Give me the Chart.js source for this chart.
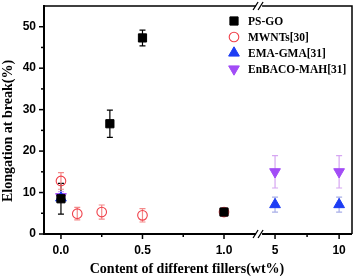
<!DOCTYPE html>
<html>
<head>
<meta charset="UTF-8">
<title>Elongation at break</title>
<script src="https://cdn.jsdelivr.net/npm/chart.js"></script>
<style>
    html, body { margin: 0; padding: 0; background: #fff; }
    .chart-container { position: relative; width: 354px; height: 276px; }
</style>
</head>
<body>
<div class="chart-container">
    <canvas id="elongChart" width="354" height="276"></canvas>
</div>
<script>
    // Data (filler content in wt%, elongation in %)
    const psgoX = [0, 0.3, 0.5, 1.0];
    const psgoY = [8.5, 26.6, 47.3, 5.3];
    const psgoErr = [3.7, 3.3, 1.9, 0.6];

    const mwntX = [0, 0.1, 0.25, 0.5, 1.0];
    const mwntY = [12.8, 4.9, 5.3, 4.5, 5.3];
    const mwntErr = [2.0, 1.5, 1.7, 1.6, 0.9];

    const emaX = [0, 5, 10];
    const emaY = [8.7, 7.1, 7.1];
    const emaErr = [1.0, 1.8, 1.8];

    const enbX = [0, 5, 10];
    const enbY = [9.0, 15.0, 15.0];
    const enbErr = [1.2, 3.9, 3.9];

    const xTickValues = [0, 0.25, 0.5, 0.75, 1.0, 5, 7.5, 10];
    const xTickLabels = ['0.0', '', '0.5', '', '1.0', '5', '', '10'];
    const yTickValues = [0, 5, 10, 15, 20, 25, 30, 35, 40, 45, 50];

    const xTitle = 'Content of different fillers(wt%)';
    const yTitle = 'Elongation at break(%)';

    // broken x axis: 0-1 linear, then 5-10 squeezed after the break
    const BREAK_POS = 1.215;
    function xPos(v) {
        return v <= 1.2 ? v : 1.313 + (v - 5) * 0.0786;
    }
    const pts = (xs, ys) => xs.map((x, i) => ({ x: xPos(x), y: ys[i] }));

    const errBars = [psgoErr, mwntErr, emaErr, enbErr];
    const errColors = ['#000000', '#f48a8a', '#a8aee8', '#d6a6f2'];

    const errorBarPlugin = {
        id: 'errorBars',
        beforeDatasetsDraw(chart) {
            const ctx = chart.ctx;
            const ys = chart.scales.y;
            ctx.save();
            chart.data.datasets.forEach((ds, di) => {
                const meta = chart.getDatasetMeta(di);
                ctx.strokeStyle = errColors[di];
                ctx.lineWidth = 1.2;
                meta.data.forEach((pt, i) => {
                    const v = ds.data[i].y, e = errBars[di][i];
                    const top = ys.getPixelForValue(v + e);
                    const bot = ys.getPixelForValue(v - e);
                    ctx.beginPath();
                    ctx.moveTo(pt.x, top); ctx.lineTo(pt.x, bot);
                    ctx.moveTo(pt.x - 3, top); ctx.lineTo(pt.x + 3, top);
                    ctx.moveTo(pt.x - 3, bot); ctx.lineTo(pt.x + 3, bot);
                    ctx.stroke();
                });
            });
            ctx.restore();
        }
    };

    const framePlugin = {
        id: 'frame',
        afterDraw(chart) {
            const ctx = chart.ctx;
            const a = chart.chartArea;
            const xs = chart.scales.x, ys = chart.scales.y;
            ctx.save();
            ctx.strokeStyle = '#000';
            // frame
            ctx.lineWidth = 1.5;
            ctx.beginPath();
            ctx.moveTo(a.left, a.top); ctx.lineTo(a.right, a.top); ctx.lineTo(a.right, a.bottom);
            ctx.stroke();
            ctx.lineWidth = 2;
            ctx.beginPath();
            ctx.moveTo(a.left, a.top - 1); ctx.lineTo(a.left, a.bottom); ctx.lineTo(a.right, a.bottom);
            ctx.stroke();
            // ticks
            ctx.lineWidth = 1.5;
            xTickValues.forEach((v, i) => {
                const px = xs.getPixelForValue(xPos(v));
                const len = xTickLabels[i] ? 5 : 3;
                ctx.beginPath(); ctx.moveTo(px, a.bottom); ctx.lineTo(px, a.bottom + len); ctx.stroke();
            });
            yTickValues.forEach(v => {
                const py = ys.getPixelForValue(v);
                const len = v % 10 === 0 ? 5 : 3;
                ctx.beginPath(); ctx.moveTo(a.left, py); ctx.lineTo(a.left - len, py); ctx.stroke();
            });
            // axis break marks
            const bx = xs.getPixelForValue(BREAK_POS);
            [a.top, a.bottom].forEach(y => {
                ctx.fillStyle = '#fff';
                ctx.fillRect(bx - 3, y - 2, 6, 4);
                ctx.lineWidth = 1.3;
                ctx.beginPath();
                ctx.moveTo(bx - 6, y + 4); ctx.lineTo(bx - 1, y - 4);
                ctx.moveTo(bx - 1, y + 4); ctx.lineTo(bx + 4, y - 4);
                ctx.stroke();
            });
            // axis titles
            ctx.fillStyle = '#000';
            ctx.font = 'bold 14px "Liberation Serif"';
            ctx.textAlign = 'center';
            ctx.textBaseline = 'middle';
            ctx.fillText(xTitle, 187, 269);
            ctx.translate(8, 131);
            ctx.rotate(-Math.PI / 2);
            ctx.fillText(yTitle, 0, 0);
            ctx.restore();
        }
    };

    const legendPlugin = {
        id: 'customLegend',
        afterDraw(chart) {
            const ctx = chart.ctx;
            const rowsY = [21, 37, 53, 69];
            ctx.save();
            ctx.font = 'bold 11.5px "Liberation Serif"';
            ctx.textBaseline = 'middle';
            ctx.fillStyle = '#000';
            chart.data.datasets.forEach((ds, i) => {
                ctx.fillStyle = ds.backgroundColor;
                ctx.strokeStyle = ds.borderColor;
                ctx.lineWidth = ds.borderWidth;
                Chart.helpers.drawPoint(ctx, {
                    pointStyle: ds.pointStyle, rotation: ds.rotation || 0,
                    radius: ds.pointRadius, borderWidth: ds.borderWidth
                }, 234, rowsY[i]);
                ctx.fillStyle = '#000';
                ctx.fillText(ds.label, 248, rowsY[i] + 1);
            });
            ctx.restore();
        }
    };

    new Chart(document.getElementById('elongChart'), {
        type: 'scatter',
        data: {
            datasets: [
                { label: 'PS-GO', data: pts(psgoX, psgoY), pointStyle: 'rect', pointRadius: 5.8,
                  backgroundColor: '#000', borderColor: '#000', borderWidth: 1 },
                { label: 'MWNTs[30]', data: pts(mwntX, mwntY), pointStyle: 'circle', pointRadius: 4.8,
                  backgroundColor: 'rgba(0,0,0,0)', borderColor: '#f0404a', borderWidth: 1.1 },
                { label: 'EMA-GMA[31]', data: pts(emaX, emaY), pointStyle: 'triangle', pointRadius: 6.2,
                  backgroundColor: '#1c3cf4', borderColor: '#1c3cf4', borderWidth: 1 },
                { label: 'EnBACO-MAH[31]', data: pts(enbX, enbY), pointStyle: 'triangle', rotation: 180, pointRadius: 6.2,
                  backgroundColor: '#a24cf6', borderColor: '#a24cf6', borderWidth: 1 }
            ]
        },
        options: {
            responsive: false,
            animation: false,
            layout: { autoPadding: false, padding: { top: 6, right: 2, left: 0, bottom: 0 } },
            plugins: { legend: { display: false }, tooltip: { enabled: false } },
            scales: {
                x: {
                    type: 'linear', min: -0.104, max: 1.785,
                    grid: { display: false, drawTicks: false },
                    border: { display: false },
                    afterBuildTicks: s => { s.ticks = xTickValues.map(v => ({ value: xPos(v) })); },
                    afterFit: s => { s.height = 42; s.paddingLeft = 0; s.paddingRight = 0; },
                    ticks: {
                        autoSkip: false, maxRotation: 0, padding: 9, color: '#000',
                        font: { family: '"Liberation Sans"', size: 12, weight: 'bold' },
                        callback: (v, i) => xTickLabels[i]
                    }
                },
                y: {
                    min: 0, max: 55,
                    grid: { display: false, drawTicks: false },
                    border: { display: false },
                    afterBuildTicks: s => { s.ticks = yTickValues.map(v => ({ value: v })); },
                    afterFit: s => { s.width = 44; s.paddingTop = 0; s.paddingBottom = 0; },
                    ticks: {
                        autoSkip: false, padding: 8, color: '#000',
                        font: { family: '"Liberation Sans"', size: 12, weight: 'bold' },
                        callback: v => (v % 10 === 0 ? v : '')
                    }
                }
            }
        },
        plugins: [errorBarPlugin, framePlugin, legendPlugin]
    });
</script>
</body>
</html>
